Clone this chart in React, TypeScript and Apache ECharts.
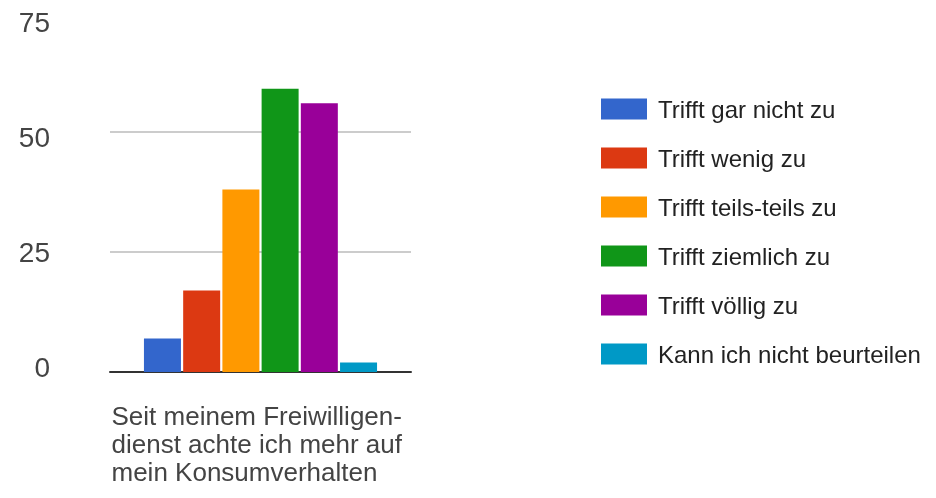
import React, { useEffect, useRef } from "react";
import * as echarts from "echarts";

const categories = ["Seit meinem Freiwilligen-\ndienst achte ich mehr auf\nmein Konsumverhalten"];
const seriesNames = [
  "Trifft gar nicht zu",
  "Trifft wenig zu",
  "Trifft teils-teils zu",
  "Trifft ziemlich zu",
  "Trifft völlig zu",
  "Kann ich nicht beurteilen",
];
const seriesValues = [7, 17, 38, 59, 56, 2];
const seriesColors = ["#3366CC", "#DC3912", "#FF9900", "#109618", "#990099", "#0099C6"];
const yTicks = [0, 25, 50, 75];

export default function App() {
  const ref = useRef<HTMLDivElement>(null);
  useEffect(() => {
    if (!ref.current) return;
    const chart = echarts.init(ref.current, undefined, { renderer: "svg" });
    const yMin = yTicks[0];
    const yMax = yTicks[yTicks.length - 1];
    const yInterval = yTicks[1] - yTicks[0];
    chart.setOption({
      animation: false,
      textStyle: { fontFamily: "Liberation Sans, Arial, sans-serif" },
      grid: [
        { left: 110, right: 525, top: 12, bottom: 126, containLabel: false },
        { left: 110, right: 525, top: 22, bottom: 131, containLabel: false },
      ],
      legend: {
        orient: "vertical",
        left: 601,
        top: 97,
        padding: 0,
        itemWidth: 46,
        itemHeight: 21,
        itemGap: 25,
        icon: "rect",
        data: seriesNames,
        textStyle: { fontSize: 24, color: "#222", padding: [0, 0, 0, 6] },
      },
      xAxis: [
        {
          type: "category",
          gridIndex: 0,
          data: categories,
          axisTick: { show: false },
          axisLine: { show: true, lineStyle: { color: "#333", width: 2 } },
          axisLabel: {
            margin: 30,
            formatter: (v: string) =>
              v.split("\n").map((s) => "{a|" + s + "}").join("\n"),
            rich: {
              a: { width: 298, align: "left", fontSize: 26, lineHeight: 28, color: "#444" },
            },
          },
        },
        { type: "value", gridIndex: 1, show: false },
      ],
      yAxis: [
        {
          type: "value",
          gridIndex: 0,
          min: yMin,
          max: yMax,
          interval: yInterval,
          axisLine: { show: false },
          axisTick: { show: false },
          axisLabel: { show: false },
          splitLine: {
            lineStyle: { color: ["#cccccc", "#cccccc", "#cccccc", "transparent"], width: 2 },
          },
        },
        {
          type: "value",
          gridIndex: 1,
          min: yMin,
          max: yMax,
          interval: yInterval,
          axisLine: { show: false },
          axisTick: { show: false },
          splitLine: { show: false },
          axisLabel: { fontSize: 28, color: "#444", margin: 60 },
        },
      ],
      series: seriesNames.map((name, i) => ({
        type: "bar",
        name,
        xAxisIndex: 0,
        yAxisIndex: 0,
        data: [seriesValues[i]],
        barWidth: 37,
        barGap: "6%",
        itemStyle: { color: seriesColors[i] },
      })),
    });
    return () => chart.dispose();
  }, []);
  return (
    <div
      ref={ref}
      style={{ position: "fixed", left: 0, top: 0, width: 936, height: 498 }}
    />
  );
}
